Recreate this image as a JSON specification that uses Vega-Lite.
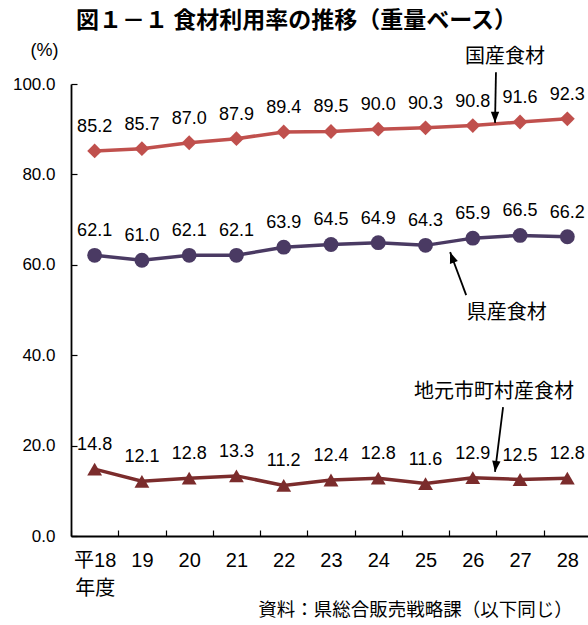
{
  "$schema": "https://vega.github.io/schema/vega-lite/v6.json",
  "width": 517,
  "height": 452,
  "autosize": "none",
  "padding": {"left": 71, "top": 84, "right": 0, "bottom": 89},
  "background": "white",
  "title": {
    "text": "図１－１ 食材利用率の推移（重量ベース）",
    "font": "Noto Sans CJK JP",
    "fontSize": 23,
    "fontWeight": "bold",
    "color": "#000000",
    "anchor": "middle",
    "frame": "group",
    "dx": -33,
    "offset": 8
  },
  "config": {
    "view": {"stroke": null},
    "axis": {"grid": false}
  },
  "datasets": {
    "main": [
      {"year": 18, "series": "国産食材", "value": 85.2},
      {"year": 19, "series": "国産食材", "value": 85.7},
      {"year": 20, "series": "国産食材", "value": 87.0},
      {"year": 21, "series": "国産食材", "value": 87.9},
      {"year": 22, "series": "国産食材", "value": 89.4},
      {"year": 23, "series": "国産食材", "value": 89.5},
      {"year": 24, "series": "国産食材", "value": 90.0},
      {"year": 25, "series": "国産食材", "value": 90.3},
      {"year": 26, "series": "国産食材", "value": 90.8},
      {"year": 27, "series": "国産食材", "value": 91.6},
      {"year": 28, "series": "国産食材", "value": 92.3},
      {"year": 18, "series": "県産食材", "value": 62.1},
      {"year": 19, "series": "県産食材", "value": 61.0},
      {"year": 20, "series": "県産食材", "value": 62.1},
      {"year": 21, "series": "県産食材", "value": 62.1},
      {"year": 22, "series": "県産食材", "value": 63.9},
      {"year": 23, "series": "県産食材", "value": 64.5},
      {"year": 24, "series": "県産食材", "value": 64.9},
      {"year": 25, "series": "県産食材", "value": 64.3},
      {"year": 26, "series": "県産食材", "value": 65.9},
      {"year": 27, "series": "県産食材", "value": 66.5},
      {"year": 28, "series": "県産食材", "value": 66.2},
      {"year": 18, "series": "地元市町村産食材", "value": 14.8},
      {"year": 19, "series": "地元市町村産食材", "value": 12.1},
      {"year": 20, "series": "地元市町村産食材", "value": 12.8},
      {"year": 21, "series": "地元市町村産食材", "value": 13.3},
      {"year": 22, "series": "地元市町村産食材", "value": 11.2},
      {"year": 23, "series": "地元市町村産食材", "value": 12.4},
      {"year": 24, "series": "地元市町村産食材", "value": 12.8},
      {"year": 25, "series": "地元市町村産食材", "value": 11.6},
      {"year": 26, "series": "地元市町村産食材", "value": 12.9},
      {"year": 27, "series": "地元市町村産食材", "value": 12.5},
      {"year": 28, "series": "地元市町村産食材", "value": 12.8}
    ],
    "notes": [
      {"name": "国産食材", "lx": 26.68, "ly": 106.0, "ax": 26.49, "ay": 102.6, "tx": 26.47, "ty": 91.4},
      {"name": "県産食材", "lx": 26.72, "ly": 49.3, "ax": 25.86, "ay": 53.3, "tx": 25.52, "ty": 62.8},
      {"name": "地元市町村産食材", "lx": 26.45, "ly": 31.9, "ax": 26.64, "ay": 28.5, "tx": 26.47, "ty": 14.2}
    ]
  },
  "encoding": {
    "x": {
      "field": "year",
      "type": "quantitative",
      "scale": {"domain": [17.5, 28.437], "nice": false, "zero": false},
      "axis": {
        "values": [17.5, 18, 18.5, 19, 19.5, 20, 20.5, 21, 21.5, 22, 22.5, 23, 23.5, 24, 24.5, 25, 25.5, 26, 26.5, 27, 27.5, 28],
        "labelExpr": "datum.value == 18 ? ['平18', '年度'] : (datum.value % 1 == 0 ? '' + datum.value : '')",
        "labelOverlap": false,
        "labelFlush": false,
        "labelBound": false,
        "labelFont": "Liberation Sans, Noto Sans CJK JP",
        "labelFontSize": 20,
        "labelColor": "#000000",
        "labelPadding": 20,
        "labelLineHeight": 28,
        "tickOpacity": {"expr": "datum.value % 1 == 0 ? 0 : 1"},
        "tickSize": -6,
        "tickColor": "#000000",
        "tickWidth": 1.2,
        "domainColor": "#000000",
        "domainWidth": 1.8,
        "title": "資料：県総合販売戦略課（以下同じ）",
        "titleFont": "Noto Sans CJK JP",
        "titleFontSize": 18.5,
        "titleFontWeight": "normal",
        "titleColor": "#000000",
        "titleAngle": 0,
        "titleAlign": "center",
        "titleBaseline": "middle",
        "titleAnchor": "start",
        "titleX": 344,
        "titleY": 73
      }
    },
    "y": {
      "field": "value",
      "type": "quantitative",
      "scale": {"domain": [0, 100], "nice": false},
      "axis": {
        "values": [0, 20, 40, 60, 80, 100],
        "format": ".1f",
        "labelFont": "Liberation Sans",
        "labelFontSize": 17,
        "labelColor": "#000000",
        "labelPadding": 22,
        "tickSize": -6,
        "tickColor": "#000000",
        "tickWidth": 1.2,
        "domainColor": "#000000",
        "domainWidth": 1.8,
        "title": "(%)",
        "titleFont": "Liberation Sans",
        "titleFontSize": 18,
        "titleFontWeight": "normal",
        "titleColor": "#000000",
        "titleAngle": 0,
        "titleAlign": "center",
        "titleBaseline": "middle",
        "titleX": -27,
        "titleY": -34
      }
    }
  },
  "layer": [
    {
      "data": {"name": "main"},
      "mark": {"type": "line", "strokeWidth": 3.5},
      "encoding": {
        "color": {
          "field": "series",
          "type": "nominal",
          "scale": {"domain": ["国産食材", "県産食材", "地元市町村産食材"], "range": ["#C0504D", "#4A3A63", "#7B2C2C"]},
          "legend": null
        }
      }
    },
    {
      "data": {"name": "main"},
      "mark": {"type": "point", "filled": true, "opacity": 1, "size": 220},
      "encoding": {
        "color": {"field": "series", "type": "nominal", "scale": {"domain": ["国産食材", "県産食材", "地元市町村産食材"], "range": ["#C0504D", "#4A3A63", "#7B2C2C"]}, "legend": null},
        "shape": {"field": "series", "type": "nominal", "scale": {"domain": ["国産食材", "県産食材", "地元市町村産食材"], "range": ["diamond", "circle", "triangle-up"]}, "legend": null}
      }
    },
    {
      "data": {"name": "main"},
      "mark": {"type": "text", "font": "Liberation Sans", "fontSize": 18, "color": "#000000", "dy": -24, "baseline": "middle", "align": "center"},
      "encoding": {
        "text": {"field": "value", "type": "quantitative", "format": ".1f"}
      }
    },
    {
      "data": {"name": "notes"},
      "mark": {"type": "text", "font": "Noto Sans CJK JP", "fontSize": 20, "color": "#000000", "baseline": "middle", "align": "center"},
      "encoding": {
        "x": {"field": "lx", "type": "quantitative"},
        "y": {"field": "ly", "type": "quantitative"},
        "text": {"field": "name", "type": "nominal"}
      }
    },
    {
      "data": {"name": "notes"},
      "mark": {"type": "rule", "color": "#000000", "strokeWidth": 1.8},
      "encoding": {
        "x": {"field": "ax", "type": "quantitative"},
        "y": {"field": "ay", "type": "quantitative"},
        "x2": {"field": "tx"},
        "y2": {"field": "ty"}
      }
    },
    {
      "data": {"name": "notes"},
      "transform": [{"filter": "datum.name == '国産食材'"}],
      "mark": {"type": "point", "filled": true, "opacity": 1, "color": "#000000", "shape": "M0,0L-0.38,1L0.38,1Z", "size": 484, "angle": 180},
      "encoding": {
        "x": {"field": "tx", "type": "quantitative"},
        "y": {"field": "ty", "type": "quantitative"}
      }
    },
    {
      "data": {"name": "notes"},
      "transform": [{"filter": "datum.name == '県産食材'"}],
      "mark": {"type": "point", "filled": true, "opacity": 1, "color": "#000000", "shape": "M0,0L-0.38,1L0.38,1Z", "size": 484, "angle": 340},
      "encoding": {
        "x": {"field": "tx", "type": "quantitative"},
        "y": {"field": "ty", "type": "quantitative"}
      }
    },
    {
      "data": {"name": "notes"},
      "transform": [{"filter": "datum.name == '地元市町村産食材'"}],
      "mark": {"type": "point", "filled": true, "opacity": 1, "color": "#000000", "shape": "M0,0L-0.38,1L0.38,1Z", "size": 484, "angle": 187},
      "encoding": {
        "x": {"field": "tx", "type": "quantitative"},
        "y": {"field": "ty", "type": "quantitative"}
      }
    }
  ]
}
